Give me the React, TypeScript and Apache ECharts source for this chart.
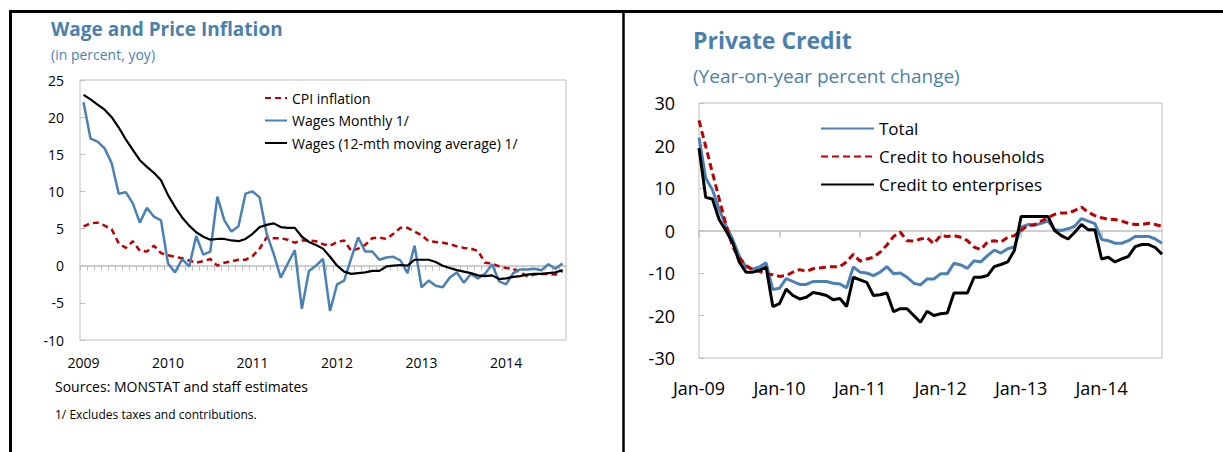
import React, { useEffect, useRef } from "react";
import * as echarts from "echarts";

const FONT = "'Open Sans', sans-serif";
const BLUE = "#4a80b8";
const TITLE_BLUE = "#4a7fb0";
const RED = "#c00000";
const GRAY = "#bfbfbf";

const MONTH_NAMES = ["Jan", "Feb", "Mar", "Apr", "May", "Jun", "Jul", "Aug", "Sep", "Oct", "Nov", "Dec"];
function monthLabels(startYear: number, count: number): string[] {
  const out: string[] = [];
  for (let i = 0; i < count; i++) {
    const y = startYear + Math.floor(i / 12);
    out.push(MONTH_NAMES[i % 12] + "-" + String(y).slice(2));
  }
  return out;
}

// Left chart: Jan-09 .. Sep-14
const wageCategories = monthLabels(2009, 69);
const wageYTicks = [-10, 25, 5];

const cpiInflation = [
  5.3, 5.7, 5.8, 5.4, 4.9, 3.0, 2.4, 3.3, 2.0, 1.9, 2.7, 1.7,
  1.4, 1.2, 1.0, 0.7, 0.4, 0.6, 0.9, 0.0, 0.4, 0.6, 0.8, 0.8,
  1.3, 2.3, 3.8, 3.7, 3.7, 3.5, 3.1, 3.4, 3.4, 3.3, 2.9, 2.7,
  3.2, 3.4, 2.0, 2.3, 2.8, 3.7, 3.8, 3.6, 4.3, 5.1, 5.1, 4.6,
  4.1, 3.3, 3.2, 3.1, 2.9, 2.6, 2.4, 2.3, 2.0, 0.4, 0.3, -0.1,
  -0.3, -0.4, -0.9, -1.4, -1.2, -1.1, -1.1, -1.2, -0.7,
];

const wagesMonthly = [
  22.0, 17.1, 16.7, 15.8, 13.8, 9.7, 9.9, 8.4, 5.8, 7.8, 6.6, 6.1,
  0.3, -0.9, 0.9, -0.1, 4.0, 1.5, 1.9, 9.3, 6.1, 4.6, 5.3, 9.7,
  10.0, 9.2, 4.3, 1.6, -1.6, 0.3, 2.1, -5.8, -0.7, 0.0, 0.9, -6.1,
  -2.5, -2.0, 1.0, 3.8, 1.9, 1.9, 0.8, 1.1, 1.2, 0.7, -1.0, 2.7,
  -2.9, -2.0, -2.7, -2.9, -1.6, -0.9, -2.3, -1.1, -1.7, -1.1, 0.2, -2.1,
  -2.5, -1.0, -0.5, -0.5, -0.4, -0.6, 0.2, -0.4, 0.3,
];

const wagesMovingAverage = [
  23.0, 22.4, 21.7, 21.0, 20.0, 18.6, 17.0, 15.6, 14.2, 13.3, 12.5, 11.5,
  9.5, 7.9, 6.5, 5.4, 4.5, 3.9, 3.5, 3.6, 3.6, 3.4, 3.3, 3.6,
  4.3, 5.2, 5.5, 5.7, 5.2, 5.1, 5.1, 3.9, 3.2, 2.8, 2.3, 1.2,
  0.0, -0.8, -1.1, -1.0, -0.9, -0.7, -0.7, -0.1, 0.0, 0.1, 0.0, 0.8,
  0.8, 0.8, 0.5, 0.0, -0.3, -0.6, -0.8, -1.0, -1.3, -1.4, -1.3, -1.8,
  -1.7, -1.5, -1.4, -1.2, -1.1, -1.1, -1.0, -0.9, -0.6,
];

// Right chart: Jan-09 .. Oct-14
const creditCategories = monthLabels(2009, 70);
const creditYTicks = [-30, 30, 10];

const creditTotal = [
  21.9, 12.3, 9.6, 5.0, 1.2, -2.0, -6.0, -8.6, -9.1, -8.6, -7.6, -13.9,
  -13.6, -11.3, -12.0, -12.7, -12.7, -12.0, -12.0, -12.0, -12.4, -12.6, -13.5, -8.6,
  -9.8, -10.0, -10.6, -9.8, -8.5, -10.2, -10.0, -11.0, -12.4, -12.8, -11.4, -11.4,
  -10.2, -10.2, -7.7, -8.1, -8.9, -7.1, -7.4, -5.9, -4.6, -5.3, -4.3, -3.9,
  0.8, 1.4, 1.2, 1.7, 2.2, 0.2, 0.0, 0.4, 1.0, 2.8, 2.2, 1.6,
  -2.1, -2.4, -3.0, -3.0, -2.4, -1.4, -1.4, -1.4, -2.0, -3.0,
];

const creditHouseholds = [
  25.9, 19.8, 13.6, 7.5, 1.5, -3.8, -6.5, -8.2, -9.2, -9.6, -10.2, -10.4,
  -10.8, -10.6, -9.8, -9.2, -9.6, -9.0, -8.8, -8.6, -8.5, -8.5, -7.4, -5.6,
  -7.2, -6.7, -6.3, -5.1, -3.4, -1.4, -0.4, -2.4, -2.5, -2.0, -1.7, -3.1,
  -1.2, -1.4, -1.2, -1.6, -2.4, -3.9, -4.5, -2.7, -2.4, -2.7, -1.6, -1.2,
  0.0, 1.2, 1.4, 2.2, 3.0, 3.8, 4.1, 4.1, 4.7, 5.5, 4.3, 3.5,
  3.0, 2.6, 2.6, 2.2, 1.7, 1.4, 1.4, 1.7, 1.4, 1.0,
];

const creditEnterprises = [
  19.4, 7.8, 7.4, 2.6, 0.0, -2.8, -7.4, -9.8, -9.8, -9.4, -8.6, -17.9,
  -17.2, -13.8, -15.3, -16.1, -15.7, -14.6, -14.9, -15.3, -16.3, -16.0, -17.9, -11.0,
  -11.6, -12.2, -15.3, -15.1, -14.7, -19.1, -18.4, -18.4, -20.0, -21.6, -19.0, -20.0,
  -19.6, -19.4, -14.7, -14.7, -14.7, -11.0, -11.0, -10.6, -8.5, -8.0, -7.4, -4.7,
  3.3, 3.3, 3.3, 3.3, 3.3, 0.0, -1.2, -2.0, -0.4, 1.4, 0.2, 0.2,
  -6.7, -6.3, -7.4, -6.7, -6.1, -3.8, -3.3, -3.3, -4.0, -5.6,
];

const leftLegend = ["CPI inflation", "Wages Monthly 1/", "Wages (12-mth moving average) 1/"];
const rightLegend = ["Total", "Credit to households", "Credit to enterprises"];

export default function App() {
  const ref = useRef<HTMLDivElement>(null);

  useEffect(() => {
    if (!ref.current) return;
    const chart = echarts.init(ref.current, undefined, { renderer: "svg" });

    const txt = (text: string, x: number, y: number, size: number, color: string, bold = false) => ({
      type: "text",
      x,
      y,
      silent: true,
      style: {
        text,
        fill: color,
        fontSize: size,
        fontWeight: bold ? "bold" : "normal",
        fontFamily: FONT,
        verticalAlign: "middle",
        align: "left",
      },
    });

    const option: any = {
      animation: false,
      backgroundColor: "#ffffff",
      textStyle: { fontFamily: FONT },
      grid: [
        { left: 80, top: 80, width: 486, height: 260, show: true, borderColor: GRAY, borderWidth: 1, backgroundColor: "transparent" },
        { left: 699, top: 103, width: 463, height: 255, show: true, borderColor: GRAY, borderWidth: 1, backgroundColor: "transparent" },
      ],
      xAxis: [
        {
          gridIndex: 0,
          type: "category",
          data: wageCategories,
          boundaryGap: true,
          axisLine: { show: false, onZero: false },
          axisTick: { show: false },
          axisLabel: {
            interval: 11,
            margin: 15,
            fontSize: 14,
            color: "#000",
            fontFamily: FONT,
            formatter: (v: string) => "20" + v.slice(4),
          },
          splitLine: { show: false },
        },
        {
          gridIndex: 0,
          type: "category",
          data: wageCategories,
          boundaryGap: true,
          axisLine: { show: true, onZero: true, lineStyle: { color: GRAY, width: 1.5 } },
          axisTick: { show: true, inside: true, length: 5, interval: 0, lineStyle: { color: GRAY, width: 1 } },
          axisLabel: { show: false },
          splitLine: { show: false },
        },
        {
          gridIndex: 1,
          type: "category",
          data: creditCategories,
          boundaryGap: false,
          axisLine: { show: false, onZero: false },
          axisTick: { show: false },
          axisLabel: { interval: 11, margin: 21, fontSize: 18, color: "#000", fontFamily: FONT },
          splitLine: { show: false },
        },
        {
          gridIndex: 1,
          type: "category",
          data: creditCategories,
          boundaryGap: false,
          axisLine: { show: true, onZero: true, lineStyle: { color: GRAY, width: 1.5 } },
          axisTick: { show: true, inside: true, length: 7, interval: 11, lineStyle: { color: GRAY, width: 1.5 } },
          axisLabel: { show: false },
          splitLine: { show: false },
        },
      ],
      yAxis: [
        {
          gridIndex: 0,
          type: "value",
          min: wageYTicks[0],
          max: wageYTicks[1],
          interval: wageYTicks[2],
          axisLine: { show: false },
          axisTick: { show: true, inside: true, length: 5, lineStyle: { color: GRAY } },
          splitLine: { show: false },
          axisLabel: { margin: 16, fontSize: 14, color: "#000", fontFamily: FONT },
        },
        {
          gridIndex: 1,
          type: "value",
          min: creditYTicks[0],
          max: creditYTicks[1],
          interval: creditYTicks[2],
          axisLine: { show: false },
          axisTick: { show: true, inside: true, length: 5, lineStyle: { color: GRAY } },
          splitLine: { show: false },
          axisLabel: { margin: 24, fontSize: 18, color: "#000", fontFamily: FONT },
        },
      ],
      legend: [
        {
          data: leftLegend,
          orient: "vertical",
          left: 259,
          top: 86,
          itemWidth: 22,
          itemHeight: 14,
          itemGap: 8.5,
          selectedMode: false,
          itemStyle: { opacity: 0 },
          textStyle: { fontSize: 14, color: "#000", fontFamily: FONT },
        },
        {
          data: rightLegend,
          orient: "vertical",
          left: 815,
          top: 115,
          itemWidth: 53,
          itemHeight: 17,
          itemGap: 11,
          selectedMode: false,
          itemStyle: { opacity: 0 },
          textStyle: { fontSize: 17, color: "#000", fontFamily: FONT },
        },
      ],
      series: [
        {
          name: leftLegend[0],
          type: "line",
          xAxisIndex: 0,
          yAxisIndex: 0,
          data: cpiInflation,
          symbol: "none",
          lineStyle: { color: RED, width: 2.5, type: [6, 4] },
          itemStyle: { color: RED },
        },
        {
          name: leftLegend[1],
          type: "line",
          xAxisIndex: 0,
          yAxisIndex: 0,
          data: wagesMonthly,
          symbol: "none",
          lineStyle: { color: BLUE, width: 2.5 },
          itemStyle: { color: BLUE },
        },
        {
          name: leftLegend[2],
          type: "line",
          xAxisIndex: 0,
          yAxisIndex: 0,
          data: wagesMovingAverage,
          symbol: "none",
          lineStyle: { color: "#000", width: 2.2 },
          itemStyle: { color: "#000" },
        },
        {
          name: rightLegend[0],
          type: "line",
          xAxisIndex: 2,
          yAxisIndex: 1,
          data: creditTotal,
          symbol: "none",
          lineStyle: { color: BLUE, width: 3 },
          itemStyle: { color: BLUE },
        },
        {
          name: rightLegend[1],
          type: "line",
          xAxisIndex: 2,
          yAxisIndex: 1,
          data: creditHouseholds,
          symbol: "none",
          lineStyle: { color: RED, width: 3, type: [7, 4] },
          itemStyle: { color: RED },
        },
        {
          name: rightLegend[2],
          type: "line",
          xAxisIndex: 2,
          yAxisIndex: 1,
          data: creditEnterprises,
          symbol: "none",
          lineStyle: { color: "#000", width: 3 },
          itemStyle: { color: "#000" },
        },
      ],
      graphic: [
        { type: "line", silent: true, shape: { x1: 9, y1: 11.5, x2: 1223, y2: 11.5 }, style: { stroke: "#000", lineWidth: 3 } },
        { type: "line", silent: true, shape: { x1: 10.5, y1: 10, x2: 10.5, y2: 452 }, style: { stroke: "#000", lineWidth: 3 } },
        { type: "line", silent: true, shape: { x1: 623.5, y1: 10, x2: 623.5, y2: 452 }, style: { stroke: "#000", lineWidth: 2.5 } },
        txt("Wage and Price Inflation", 51, 29, 19, TITLE_BLUE, true),
        txt("(in percent, yoy)", 51, 54, 14, TITLE_BLUE),
        txt("Sources: MONSTAT and staff estimates", 55, 386, 14, "#000"),
        txt("1/ Excludes taxes and contributions.", 55, 414, 12, "#000"),
        txt("Private Credit", 693, 40, 23, TITLE_BLUE, true),
        txt("(Year-on-year percent change)", 693, 76, 19, TITLE_BLUE),
      ],
    };

    chart.setOption(option);
    return () => chart.dispose();
  }, []);

  return (
    <div
      ref={ref}
      style={{ position: "absolute", left: 0, top: 0, width: 1223, height: 452, background: "#fff" }}
    />
  );
}
